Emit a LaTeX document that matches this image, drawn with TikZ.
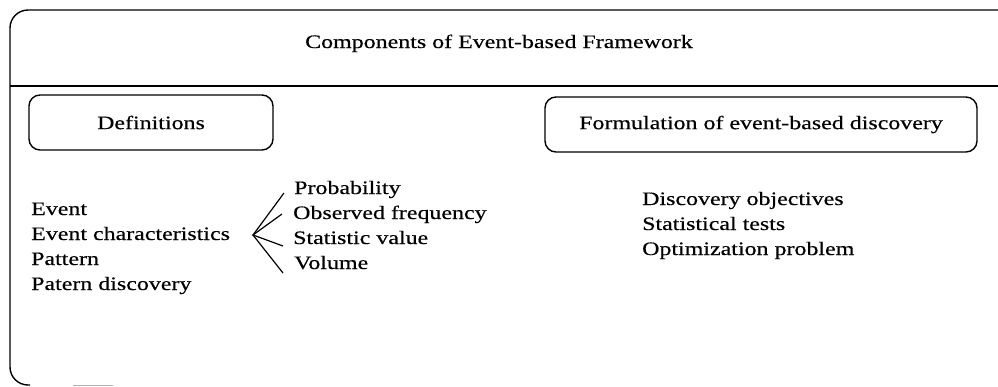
\documentclass[tikz,border=0pt]{standalone}
\usepackage{fontspec}
\setmainfont[FakeStretch=1.26,FakeBold=0.4]{Liberation Serif}
\begin{document}
\begin{tikzpicture}[x=1pt,y=-1pt,
  every node/.style={font=\fontsize{19}{21}\selectfont},
  frame/.style={line width=1.4pt},
  hdrbox/.style={draw,line width=1.4pt,rounded corners=11pt,inner sep=0pt},
  item/.style={anchor=base west,inner sep=0pt},
  fan/.style={line width=1.2pt}]
\useasboundingbox (0,0) rectangle (998,386);
% outer frame
\draw[frame,rounded corners=18pt] (30,385) -| (10,10) -- (1010,10);
\draw[frame] (10,86) -- (998,86);
\draw[gray!60,line width=1pt] (73,385) -- (113,385);
% title
\node[anchor=base,inner sep=0pt] (title) at (499,48) {Components of Event-based Framework};
% header boxes
\node[hdrbox,minimum width=244pt,minimum height=55pt] (defs) at (151,122.5) {Definitions};
\node[hdrbox,minimum width=432pt,minimum height=55pt] (form) at (761,124.5) {Formulation of event-based discovery};
% left list
\node[item] (ev) at (31,215) {Event};
\node[item] (evc) at (31,240) {Event characteristics};
\node[item] (pat) at (31,265) {Pattern};
\node[item] (patd) at (31,290) {Patern discovery};
% middle list
\node[item] (prob) at (294,194) {Probability};
\node[item] (obs) at (293,219) {Observed frequency};
\node[item] (stat) at (293,244) {Statistic value};
\node[item] (vol) at (294,269) {Volume};
% right list
\node[item] (dobj) at (642,205) {Discovery objectives};
\node[item] (stest) at (642,230) {Statistical tests};
\node[item] (opt) at (642,255) {Optimization problem};
% fan
\coordinate (apex) at (253,235);
\coordinate (e1) at (284,193);
\coordinate (e2) at (282,214);
\coordinate (e3) at (283,246);
\coordinate (e4) at (283,273);
\draw[fan] (e1) -- (apex) -- (e4);
\draw[fan] (e2) -- (apex) -- (e3);
\end{tikzpicture}
\end{document}
